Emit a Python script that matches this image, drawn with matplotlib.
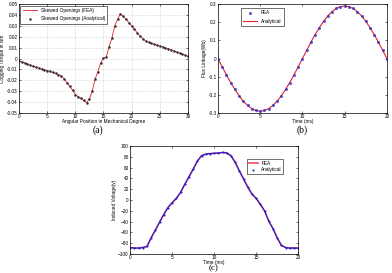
import numpy as np
import matplotlib
matplotlib.use('Agg')
from matplotlib import pyplot as plt

plt.rcParams['font.family'] = ['Liberation Sans', 'DejaVu Sans']

# (a) cogging torque vs angular position
angle = [i * 0.5 for i in range(61)]
torque = [-0.002, -0.003, -0.004, -0.005, -0.006, -0.007, -0.0078, -0.0086, -0.0095, -0.0103,
          -0.011, -0.0118, -0.0127, -0.0136, -0.0147, -0.016, -0.0185, -0.022, -0.0255, -0.029,
          -0.033, -0.035, -0.0365, -0.0385, -0.0405, -0.037, -0.030, -0.019, -0.012, -0.004,
          0.0005, 0.0015, 0.011, 0.019, 0.030, 0.036, 0.041, 0.039, 0.036, 0.033,
          0.030, 0.027, 0.0235, 0.0205, 0.018, 0.016, 0.0148, 0.014, 0.013, 0.0123,
          0.0115, 0.0107, 0.0098, 0.009, 0.008, 0.007, 0.006, 0.005, 0.004, 0.003, 0.002]

# (b) flux linkage vs time
t_flux = [i * 0.5 for i in range(41)]
flux = [0.0, -0.045, -0.090, -0.132, -0.170, -0.205, -0.235, -0.258, -0.276, -0.286,
        -0.290, -0.286, -0.276, -0.258, -0.235, -0.205, -0.170, -0.132, -0.090, -0.045,
        0.0, 0.045, 0.090, 0.132, 0.170, 0.205, 0.235, 0.258, 0.276, 0.286,
        0.290, 0.286, 0.276, 0.258, 0.235, 0.205, 0.170, 0.132, 0.090, 0.045, 0.0]

# (c) induced voltage vs time
t_volt = [i * 0.5 for i in range(41)]
volt = [-88, -89, -89, -88, -86, -70, -56, -41, -27, -14,
        -5, 3, 14, 29, 43, 57, 72, 82, 85, 86,
        86.5, 87, 88, 87, 82, 70, 54, 39, 24, 11,
        3, -8, -20, -39, -53, -70, -84, -88, -89, -89, -89]

fig = plt.figure(figsize=(3.92, 2.73), dpi=100)
fs = 3.4


def style(ax):
    ax.tick_params(direction='in', length=1.5, width=0.4, labelsize=fs, pad=1,
                   top=True, right=True)
    for s in ax.spines.values():
        s.set_linewidth(0.5)


# panel (a)
ax1 = fig.add_axes([0.0485, 0.586, 0.431, 0.399])
ax1.plot(angle, torque, c='#e8202a', lw=0.6, label='Skewed Openings (FEA)')
ax1.plot(angle, torque, 'o', c='#303030', ms=1.8, mew=0, label='Skewed Openings (Analytical)')
ax1.set_xlim(0, 30)
ax1.set_ylim(-0.05, 0.05)
ax1.set_xticks(range(0, 31, 5))
ax1.set_yticks(np.arange(-0.05, 0.051, 0.01))
ax1.set_yticklabels(['-0.05', '-0.04', '-0.03', '-0.02', '-0.01', '0',
                     '0.01', '0.02', '0.03', '0.04', '0.05'])
ax1.grid(True, ls=':', lw=0.4, c='#b0b0b0')
ax1.set_xlabel('Angular Position in Mechanical Degree', fontsize=fs, labelpad=0)
ax1.set_ylabel('Cogging Torque in Nm', fontsize=fs, labelpad=1)
leg = ax1.legend(loc='upper left', fontsize=fs, frameon=True, fancybox=False,
                 edgecolor='black', handlelength=3, borderpad=0.5, labelspacing=0.7,
                 borderaxespad=0.3)
leg.get_frame().set_linewidth(0.5)
style(ax1)
fig.text(0.25, 0.512, '(a)', family='Liberation Serif', fontsize=7, ha='center')

# panel (b)
ax2 = fig.add_axes([0.556, 0.586, 0.431, 0.399])
ax2.plot(t_flux, flux, c='#e8202a', lw=0.8, label='Analytical', zorder=2)
ax2.plot(t_flux, flux, 'o', c='#3030c0', ms=2.2, mew=0, label='FEA', zorder=3, alpha=0.8)
ax2.set_xlim(0, 20)
ax2.set_ylim(-0.3, 0.3)
ax2.set_xticks(range(0, 21, 5))
ax2.set_yticks(np.arange(-0.3, 0.31, 0.1))
ax2.set_yticklabels(['-0.3', '-0.2', '-0.1', '0', '0.1', '0.2', '0.3'])
ax2.set_xlabel('Time (ms)', fontsize=fs, labelpad=0)
ax2.set_ylabel('Flux Linkage(Wb)', fontsize=fs, labelpad=1)
h, l = ax2.get_legend_handles_labels()
leg = ax2.legend(h[::-1], l[::-1], loc='upper left', bbox_to_anchor=(0.12, 0.985),
                 fontsize=fs, frameon=True, fancybox=False, edgecolor='black',
                 handlelength=3, borderpad=0.5, labelspacing=0.7)
leg.get_frame().set_linewidth(0.5)
style(ax2)
fig.text(0.77, 0.512, '(b)', family='Liberation Serif', fontsize=7, ha='center')

# panel (c)
ax3 = fig.add_axes([0.332, 0.0696, 0.4286, 0.3956])
ax3.plot(t_volt, volt, c='#f05060', lw=1.2, label='FEA')
ax3.plot(t_volt, volt, c='#2020d0', lw=0.8)
ax3.plot(t_volt, volt, 'o', c='#2020d0', ms=1.5, mew=0, label='Analytical')
ax3.set_xlim(0, 20)
ax3.set_ylim(-100, 100)
ax3.set_xticks(range(0, 21, 5))
ax3.set_yticks(range(-100, 101, 20))
ax3.set_xlabel('Time (ms)', fontsize=fs, labelpad=0)
ax3.set_ylabel('Induced Voltage(v)', fontsize=fs, labelpad=1)
leg = ax3.legend(loc='upper left', bbox_to_anchor=(0.68, 0.9), fontsize=fs,
                 frameon=True, fancybox=False, edgecolor='black', handlelength=2,
                 borderpad=0.3, labelspacing=0.4)
leg.get_frame().set_linewidth(0.5)
style(ax3)
fig.text(0.545, 0.002, '(c)', family='Liberation Serif', fontsize=6.5, ha='center',
         va='bottom')

fig.savefig('out.png', dpi=100)
